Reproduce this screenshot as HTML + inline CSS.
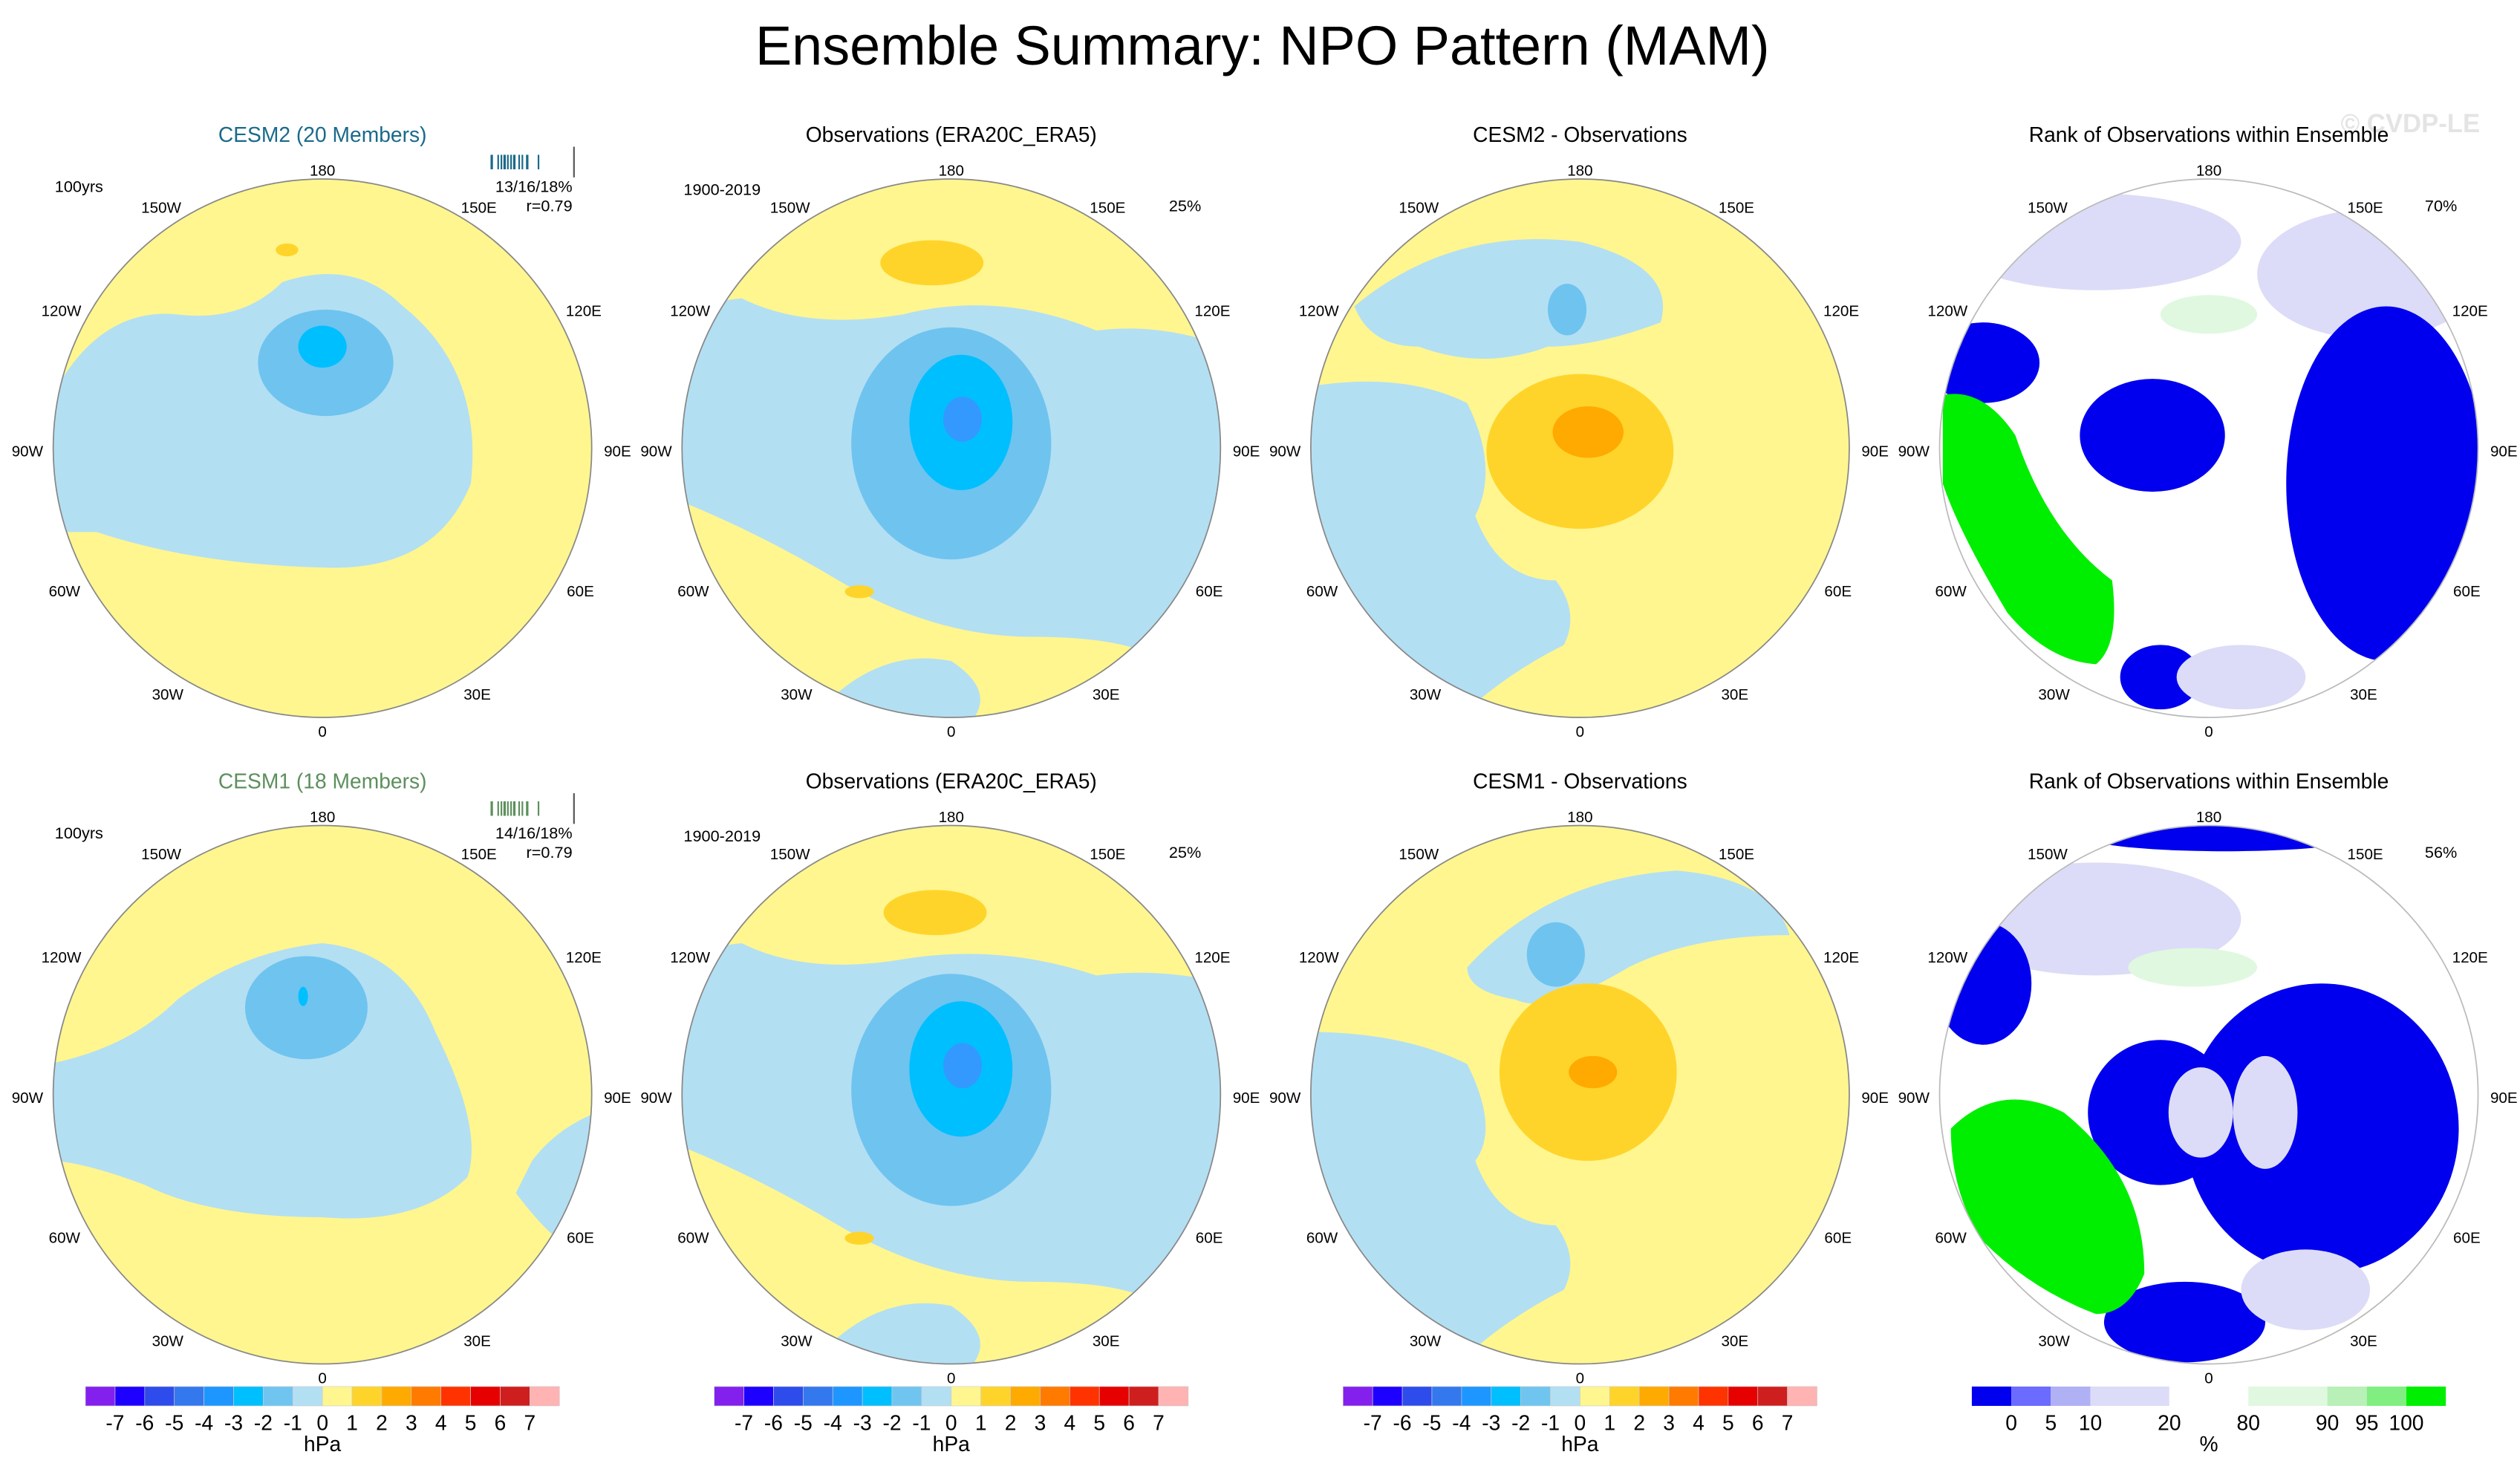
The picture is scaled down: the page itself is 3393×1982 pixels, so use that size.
<!DOCTYPE html>
<html><head><meta charset="utf-8"><style>
html,body{margin:0;padding:0;background:#fff;}
svg{display:block;font-family:"Liberation Sans",sans-serif;}
</style></head><body>
<svg id="fig" width="3393" height="1982" viewBox="0 0 1563 913" xmlns="http://www.w3.org/2000/svg">
<defs>
<clipPath id="c1"><circle cx="200" cy="278" r="167"/></clipPath>
<clipPath id="c2"><circle cx="590" cy="278" r="167"/></clipPath>
<clipPath id="c3"><circle cx="980" cy="278" r="167"/></clipPath>
<clipPath id="c4"><circle cx="1370" cy="278" r="167"/></clipPath>
<clipPath id="c5"><circle cx="200" cy="679" r="167"/></clipPath>
<clipPath id="c6"><circle cx="590" cy="679" r="167"/></clipPath>
<clipPath id="c7"><circle cx="980" cy="679" r="167"/></clipPath>
<clipPath id="c8"><circle cx="1370" cy="679" r="167"/></clipPath>
</defs>
<text x="783" y="40" font-size="34" text-anchor="middle">Ensemble Summary: NPO Pattern (MAM)</text>
<text x="1495" y="82" font-size="16" fill="#e4e4e4" text-anchor="middle" font-weight="bold">© CVDP-LE</text>

<!-- Panel 1 -->
<g clip-path="url(#c1)">
<rect x="30" y="108" width="340" height="340" fill="#fff68f"/>
<path d="M30 250 Q60 190 110 195 Q150 200 175 175 Q220 160 250 190 Q300 230 292 300 Q270 355 200 352 Q120 350 60 330 L30 330 Z" fill="#b3dff3"/>
<ellipse cx="202" cy="225" rx="42" ry="33" fill="#6fc3ef"/>
<ellipse cx="200" cy="215" rx="15" ry="13" fill="#00bfff"/>
<ellipse cx="178" cy="155" rx="7" ry="4" fill="#ffd42a"/>
</g>
<circle cx="200" cy="278" r="167" fill="none" stroke="#888" stroke-width="0.8"/>
<!-- Panel 2 -->
<g clip-path="url(#c2)">
<rect x="420" y="108" width="340" height="340" fill="#b3dff3"/>
<path d="M420 108 L760 108 L760 215 Q720 200 680 205 Q620 180 560 195 Q500 205 460 185 L420 190 Z" fill="#fff68f"/>
<path d="M420 310 Q470 330 520 360 Q580 395 640 395 Q700 395 720 410 L760 450 L420 450 Z" fill="#fff68f"/>
<path d="M500 450 Q540 400 590 410 Q620 430 600 450 Z" fill="#b3dff3"/>
<ellipse cx="590" cy="275" rx="62" ry="72" fill="#6fc3ef"/>
<ellipse cx="596" cy="262" rx="32" ry="42" fill="#00bfff"/>
<ellipse cx="597" cy="260" rx="12" ry="14" fill="#3399ff"/>
<ellipse cx="578" cy="163" rx="32" ry="14" fill="#ffd42a"/>
<ellipse cx="533" cy="367" rx="9" ry="4" fill="#ffd42a"/>
</g>
<circle cx="590" cy="278" r="167" fill="none" stroke="#888" stroke-width="0.8"/>
<!-- Panel 3 -->
<g clip-path="url(#c3)">
<rect x="810" y="108" width="340" height="340" fill="#fff68f"/>
<path d="M840 190 Q900 140 980 150 Q1040 165 1030 200 Q990 215 960 215 Q920 230 880 215 Q850 215 840 190 Z" fill="#b3dff3"/>
<path d="M810 240 Q870 230 910 250 Q930 290 915 320 Q930 360 965 360 Q980 380 970 400 Q930 420 900 450 L810 450 Z" fill="#b3dff3"/>
<ellipse cx="972" cy="192" rx="12" ry="16" fill="#6fc3ef"/>
<ellipse cx="980" cy="280" rx="58" ry="48" fill="#ffd42a"/>
<ellipse cx="985" cy="268" rx="22" ry="16" fill="#ffaa00"/>
</g>
<circle cx="980" cy="278" r="167" fill="none" stroke="#888" stroke-width="0.8"/>
<!-- Panel 4 -->
<g clip-path="url(#c4)">
<rect x="1200" y="108" width="340" height="340" fill="#fff"/>
<ellipse cx="1300" cy="150" rx="90" ry="30" fill="#dcdcf8"/>
<ellipse cx="1470" cy="170" rx="70" ry="40" fill="#dcdcf8"/>
<ellipse cx="1370" cy="195" rx="30" ry="12" fill="#e0f8e0"/>
<ellipse cx="1480" cy="300" rx="62" ry="110" fill="#0000ee"/>
<ellipse cx="1335" cy="270" rx="45" ry="35" fill="#0000ee"/>
<ellipse cx="1230" cy="225" rx="35" ry="25" fill="#0000ee"/>
<ellipse cx="1340" cy="420" rx="25" ry="20" fill="#0000ee"/>
<ellipse cx="1390" cy="420" rx="40" ry="20" fill="#dcdcf8"/>
<path d="M1205 245 Q1230 240 1250 270 Q1270 330 1310 360 Q1315 400 1300 412 Q1270 410 1245 380 Q1215 330 1205 300 Z" fill="#00ee00"/>
</g>
<circle cx="1370" cy="278" r="167" fill="none" stroke="#bbb" stroke-width="0.8"/>

<!-- Panel 5 -->
<g clip-path="url(#c5)">
<rect x="30" y="509" width="340" height="340" fill="#fff68f"/>
<path d="M30 660 Q80 650 110 620 Q150 590 200 585 Q250 590 270 640 Q300 700 290 730 Q260 760 200 755 Q130 755 90 735 Q50 720 30 720 Z" fill="#b3dff3"/>
<path d="M330 720 Q345 700 370 690 L370 780 Q350 780 320 740 Z" fill="#b3dff3"/>
<ellipse cx="190" cy="625" rx="38" ry="32" fill="#6fc3ef"/>
<ellipse cx="188" cy="618" rx="3" ry="6" fill="#00bfff"/>
</g>
<circle cx="200" cy="679" r="167" fill="none" stroke="#888" stroke-width="0.8"/>
<!-- Panel 6 -->
<g clip-path="url(#c6)">
<rect x="420" y="509" width="340" height="340" fill="#b3dff3"/>
<path d="M420 509 L760 509 L760 610 Q720 600 680 605 Q620 585 560 595 Q500 605 460 585 L420 590 Z" fill="#fff68f"/>
<path d="M420 710 Q470 730 520 760 Q580 795 640 795 Q700 795 720 810 L760 850 L420 850 Z" fill="#fff68f"/>
<path d="M500 850 Q540 800 590 810 Q620 830 600 850 Z" fill="#b3dff3"/>
<ellipse cx="590" cy="676" rx="62" ry="72" fill="#6fc3ef"/>
<ellipse cx="596" cy="663" rx="32" ry="42" fill="#00bfff"/>
<ellipse cx="597" cy="661" rx="12" ry="14" fill="#3399ff"/>
<ellipse cx="580" cy="566" rx="32" ry="14" fill="#ffd42a"/>
<ellipse cx="533" cy="768" rx="9" ry="4" fill="#ffd42a"/>
</g>
<circle cx="590" cy="679" r="167" fill="none" stroke="#888" stroke-width="0.8"/>
<!-- Panel 7 -->
<g clip-path="url(#c7)">
<rect x="810" y="509" width="340" height="340" fill="#fff68f"/>
<path d="M910 600 Q960 545 1040 540 Q1100 545 1110 580 Q1050 580 1010 600 Q960 630 940 620 Q910 615 910 600 Z" fill="#b3dff3"/>
<path d="M810 640 Q870 640 910 660 Q930 700 915 720 Q930 760 965 760 Q980 780 970 800 Q930 820 900 850 L810 850 Z" fill="#b3dff3"/>
<ellipse cx="965" cy="592" rx="18" ry="20" fill="#6fc3ef"/>
<ellipse cx="985" cy="665" rx="55" ry="55" fill="#ffd42a"/>
<ellipse cx="988" cy="665" rx="15" ry="10" fill="#ffaa00"/>
</g>
<circle cx="980" cy="679" r="167" fill="none" stroke="#888" stroke-width="0.8"/>
<!-- Panel 8 -->
<g clip-path="url(#c8)">
<rect x="1200" y="509" width="340" height="340" fill="#fff"/>
<ellipse cx="1300" cy="570" rx="90" ry="35" fill="#dcdcf8"/>
<ellipse cx="1380" cy="518" rx="90" ry="10" fill="#0000ee"/>
<ellipse cx="1360" cy="600" rx="40" ry="12" fill="#e0f8e0"/>
<ellipse cx="1230" cy="610" rx="30" ry="38" fill="#0000ee"/>
<ellipse cx="1440" cy="700" rx="85" ry="90" fill="#0000ee"/>
<ellipse cx="1340" cy="690" rx="45" ry="45" fill="#0000ee"/>
<ellipse cx="1365" cy="690" rx="20" ry="28" fill="#dcdcf8"/>
<ellipse cx="1405" cy="690" rx="20" ry="35" fill="#dcdcf8"/>
<ellipse cx="1355" cy="820" rx="50" ry="25" fill="#0000ee"/>
<ellipse cx="1430" cy="800" rx="40" ry="25" fill="#dcdcf8"/>
<path d="M1210 700 Q1240 670 1280 690 Q1330 730 1330 790 Q1320 815 1300 815 Q1260 800 1230 770 Q1210 740 1210 700 Z" fill="#00ee00"/>
</g>
<circle cx="1370" cy="679" r="167" fill="none" stroke="#bbb" stroke-width="0.8"/>

<g id="labels" font-size="13" text-anchor="middle"></g>
<g id="cbars"></g>
</svg>
<script>
const lonLabels = ["180","150W","150E","120W","120E","90W","90E","60W","60E","30W","30E","0"];
const lonOff = [[0,-173],[-100,-150],[97,-150],[-162,-86],[162,-86],[-183,1],[183,1],[-160,88],[160,88],[-96,152],[96,152],[0,175]];
const colCx = [200,590,980,1370];
const rowCy = [278,679];
const titles = [["CESM2 (20 Members)","Observations (ERA20C_ERA5)","CESM2 - Observations","Rank of Observations within Ensemble"],
                ["CESM1 (18 Members)","Observations (ERA20C_ERA5)","CESM1 - Observations","Rank of Observations within Ensemble"]];
const hpaColors = ["#8420ee","#1e00ff","#2d4ceb","#3478ee","#1e96ff","#00bfff","#70c5f0","#b3dff3","#fff68f","#ffd42a","#ffaa00","#ff7b00","#ff3300","#e60000","#cf1e1e","#ffb3b3"];
const hpaTicks = ["-7","-6","-5","-4","-3","-2","-1","0","1","2","3","4","5","6","7"];
const rankColors = ["#0000ee","#6b6bff","#b0b0f5","#dcdcf8","#ffffff","#e0f8e0","#b8f0b8","#80ee80","#00ee00"];
const rankBounds = [0,1,2,3,5,7,9,10,11,12];
const rankTicks = ["0","5","10","20","80","90","95","100"];
const NS="http://www.w3.org/2000/svg";
function mk(tag,attrs,parent,txt){const e=document.createElementNS(NS,tag);for(const k in attrs)e.setAttribute(k,attrs[k]);if(txt!==undefined)e.textContent=txt;parent.appendChild(e);return e;}
const L=document.getElementById('labels');
for(let r=0;r<2;r++)for(let c=0;c<4;c++){
  const cx=colCx[c],cy=rowCy[r];
  lonLabels.forEach((t,i)=>{const el=mk('text',{x:cx+lonOff[i][0],y:cy+lonOff[i][1]+4,'font-size':9.5},L,t);
  
  });
  let fill='#000';
  if(c===0)fill=r===0?'#1a6a8a':'#5d8f5d';
  const tt=mk('text',{x:cx,y:(r===0?88:489),'font-size':13,fill:fill},L,titles[r][c]);
  
  
}
function side(x,y,t,anchor){const e=mk('text',{x:x,y:y,'font-size':10,'text-anchor':anchor},L,t);

}
for(let r=0;r<2;r++){const o=r*401;
 side(34,119+o,"100yrs","start");
 side(355,119+o,r===0?"13/16/18%":"14/16/18%","end");
 side(355,131+o,"r=0.79","end");
 side(424,121+o,"1900-2019","start");
 side(735,131+o,"25%","middle");
 side(1514,131+o,r===0?"70%":"56%","middle");
 const sp=mk('g',{},L);
 
 
 const col=r===0?'#1a6a8a':'#5d8f5d';
 [305,309,311,313,315,317,319,322,324,327,334,356].forEach((x,i)=>mk('line',{x1:x,x2:x,y1:(i===11?91:96)+o,y2:(i===11?110:105)+o,stroke:i===11?'#555':col,'stroke-width':i%3===0?1.5:1},sp));
}
const CB=document.getElementById('cbars');
const cbY=860,cbH=12;
[53,443,833].forEach(x0=>{
  const w=294/hpaColors.length;
  hpaColors.forEach((c,i)=>{const b=mk('rect',{x:x0+i*w,y:cbY,width:w,height:cbH,fill:c,stroke:'#ccc','stroke-width':0.3},CB);
  
  });
  hpaTicks.forEach((t,i)=>{const e=mk('text',{x:x0+(i+1)*w,y:887,'font-size':13,'text-anchor':'middle'},CB,t);
  
  });
  mk('text',{x:x0+147,y:900,'font-size':13,'text-anchor':'middle'},CB,"hPa");
});
{const x0=1223,u=294/rankBounds[rankBounds.length-1];
 rankColors.forEach((c,i)=>{const b=mk('rect',{x:x0+rankBounds[i]*u,y:cbY,width:(rankBounds[i+1]-rankBounds[i])*u,height:cbH,fill:c},CB);
 
 });
 rankTicks.forEach((t,i)=>{const e=mk('text',{x:x0+rankBounds[i+1]*u,y:887,'font-size':13,'text-anchor':'middle'},CB,t);
 
 });
 mk('text',{x:x0+147,y:900,'font-size':13,'text-anchor':'middle'},CB,"%");
}
</script>
</body></html>
